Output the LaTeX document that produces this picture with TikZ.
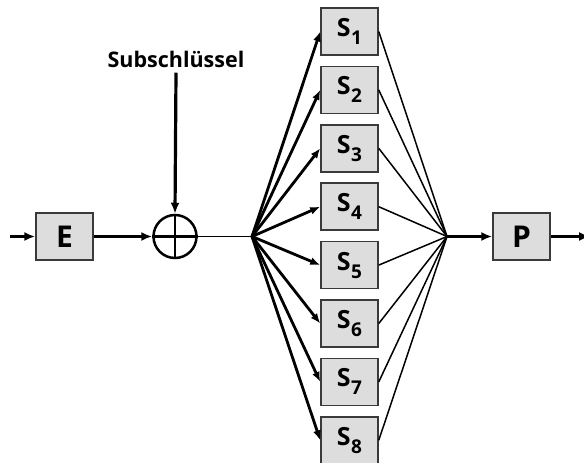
\documentclass[tikz,border=0pt]{standalone}
\usepackage{fontspec}
\setmainfont{Open Sans}
\usetikzlibrary{arrows.meta}
\definecolor{boxfill}{HTML}{DDDDDD}
\definecolor{boxline}{HTML}{3A3A3A}
\tikzset{
  blk/.style={draw=boxline, line width=1.5pt, fill=boxfill, minimum width=57pt, minimum height=47pt, inner sep=0pt, font=\bfseries\fontsize{30}{30}\selectfont},
  sbox/.style={blk, font=\bfseries\fontsize{25}{25}\selectfont},
  main/.style={line width=3.2pt, -{Latex[length=11pt,width=9pt]}},
  fanin/.style={line width=2.8pt, -{Latex[length=10pt,width=8pt]}},
  fanout/.style={line width=1.5pt},
}
\newcommand{\Sb}[1]{S\kern0.5pt\raisebox{-8pt}{\fontsize{19}{19}\selectfont #1}}
\begin{document}
\begin{tikzpicture}[x=1pt,y=-1pt]
\useasboundingbox (0,0) rectangle (584,463);
\node[blk] (E) at (64.5,236.5) {E};
\node[blk] (P) at (521.5,236.5) {P};
\node[circle, draw, line width=2.5pt, minimum size=43pt, inner sep=0pt] (X) at (175,236.5) {};
\draw[line width=2.5pt] (X.north) -- (X.south) (X.west) -- (X.east);
\node[font=\bfseries\fontsize{21.5}{21.5}\selectfont, anchor=base] (K) at (176,67) {Subschlüssel};
\coordinate (in) at (10,236.5);
\coordinate (out) at (590,236.5);
\coordinate (L) at (252,236.5);
\coordinate (R) at (447,236.5);
\foreach \i in {1,...,8} {
  \node[sbox] (S\i) at (349.5,{31.5+(\i-1)*58.4}) {\Sb{\i}};
}
\draw[main] (in) -- (E.west);
\draw[main] (E.east) -- (X.west);
\draw[main] (K.south) ++(0,2) coordinate (Kt) (Kt) -- (X.north);
\draw[line width=1.8pt] (X.east) -- (L);
\foreach \i in {1,...,8} {
  \draw[fanin] (L) -- (S\i.west);
  \draw[fanout] (S\i.east) -- (R);
}
\draw[main] (R) -- (P.west);
\draw[main] (P.east) -- (out);
\end{tikzpicture}
\end{document}
